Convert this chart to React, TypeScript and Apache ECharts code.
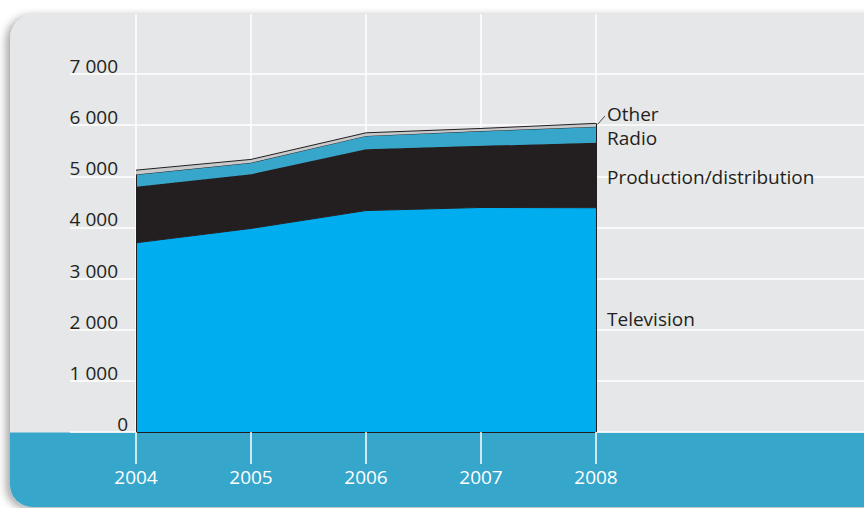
import React, { useEffect, useRef } from "react";
import * as echarts from "echarts";

const years = ["2004", "2005", "2006", "2007", "2008"];
const television = [3700, 3980, 4330, 4390, 4385];
const production = [1095, 1060, 1200, 1205, 1270];
const radio = [240, 225, 260, 290, 315];
const other = [85, 65, 60, 50, 65];
const seriesNames = ["Television", "Production/distribution", "Radio", "Other"];
const yTicks = [0, 1000, 2000, 3000, 4000, 5000, 6000, 7000];

const FONT = "'Open Sans', sans-serif";
const DARK = "#231f20";

export default function App() {
  const ref = useRef<HTMLDivElement>(null);
  useEffect(() => {
    if (!ref.current) return;
    const chart = echarts.init(ref.current, undefined, { renderer: "svg" });
    const totals = years.map((_, i) => television[i] + production[i] + radio[i] + other[i]);
    const colors = ["#00adee", DARK, "#36a6cb", "#c8c9cb"];
    const data = [television, production, radio, other];
    const yMax = yTicks[yTicks.length - 1];
    const last = years.length - 1;
    const series: any[] = data.map((arr, k) => ({
      name: seriesNames[k],
      type: "line",
      xAxisIndex: 1,
      yAxisIndex: 1,
      stack: "total",
      data: arr,
      symbol: "none",
      lineStyle: { color: DARK, width: 1 },
      areaStyle: { color: colors[k], opacity: 1 },
      z: 2 + k,
    }));
    series[3].markLine = {
      silent: true,
      symbol: "none",
      label: { show: false },
      lineStyle: { color: DARK, width: 1, type: "solid" },
      data: [
        [{ coord: [years[0], 0] }, { coord: [years[0], totals[0]] }],
        [{ coord: [years[last], 0] }, { coord: [years[last], totals[last]] }],
      ],
    };
    const labelY = [319, 176.5, 138, 114];
    const richBase = { color: DARK, fontSize: 19, fontFamily: FONT, lineHeight: 16 };
    const option: any = {
      animation: false,
      backgroundColor: "transparent",
      textStyle: { fontFamily: FONT },
      graphic: [
        {
          type: "rect",
          z: -100,
          shape: { x: 10, y: 14, width: 900, height: 493, r: [25, 0, 0, 22] },
          style: {
            fill: "#e6e7e8",
            shadowBlur: 8,
            shadowOffsetX: -4,
            shadowOffsetY: 2,
            shadowColor: "rgba(0,0,0,0.35)",
          },
        },
        {
          type: "rect",
          z: -99,
          shape: { x: 10, y: 432.5, width: 900, height: 74.5, r: [0, 0, 0, 22] },
          style: { fill: "#36a6cb" },
        },
        {
          type: "line",
          z: 100,
          shape: { x1: 597.5, y1: 124.5, x2: 605, y2: 116 },
          style: { stroke: DARK, lineWidth: 0.8 },
        },
        ...seriesNames.map((n, k) => ({
          type: "text",
          z: 100,
          x: 607,
          y: labelY[k],
          style: {
            text: n,
            fill: DARK,
            font: `19px ${FONT}`,
            verticalAlign: "middle",
            align: "left",
          },
        })),
      ],
      grid: [
        { left: 70, right: 0, top: 74, bottom: 76 },
        { left: 136, width: 460, top: 14, bottom: 76 },
      ],
      xAxis: [
        { gridIndex: 0, type: "value", min: 0, max: 1, show: false },
        {
          gridIndex: 1,
          type: "category",
          data: years,
          boundaryGap: false,
          axisLine: { show: true, lineStyle: { color: DARK, width: 1 } },
          axisTick: { show: true, length: 32, lineStyle: { color: "#ffffff", width: 1.5 } },
          splitLine: { show: true, lineStyle: { color: "#ffffff", width: 1.5 } },
          axisLabel: {
            color: "#ffffff",
            fontSize: 19,
            fontFamily: FONT,
            margin: 35,
          },
        },
      ],
      yAxis: [
        {
          gridIndex: 0,
          type: "value",
          min: 0,
          max: yMax,
          interval: 1000,
          axisLine: { show: false },
          axisTick: { show: false },
          splitLine: { show: true, lineStyle: { color: "#ffffff", width: 1.5 } },
          axisLabel: {
            inside: true,
            align: "right",
            margin: 58,
            verticalAlign: "bottom",
            lineHeight: 16,
            color: DARK,
            fontSize: 19,
            fontFamily: FONT,
            formatter: (v: number) =>
              v >= 1000
                ? `{a|${Math.floor(v / 1000)} ${String(v % 1000).padStart(3, "0")}}`
                : `{z|${v}}`,
            rich: {
              a: { ...richBase, padding: [0, 10, 0, 0] },
              z: { ...richBase },
            },
          },
        },
        {
          gridIndex: 1,
          type: "value",
          min: 0,
          max: (418 * yMax) / 358,
          show: false,
        },
      ],
      series,
    };
    chart.setOption(option);
    return () => chart.dispose();
  }, []);
  return (
    <div
      ref={ref}
      style={{ position: "fixed", left: 0, top: 0, width: 864, height: 508, background: "#ffffff" }}
    />
  );
}
